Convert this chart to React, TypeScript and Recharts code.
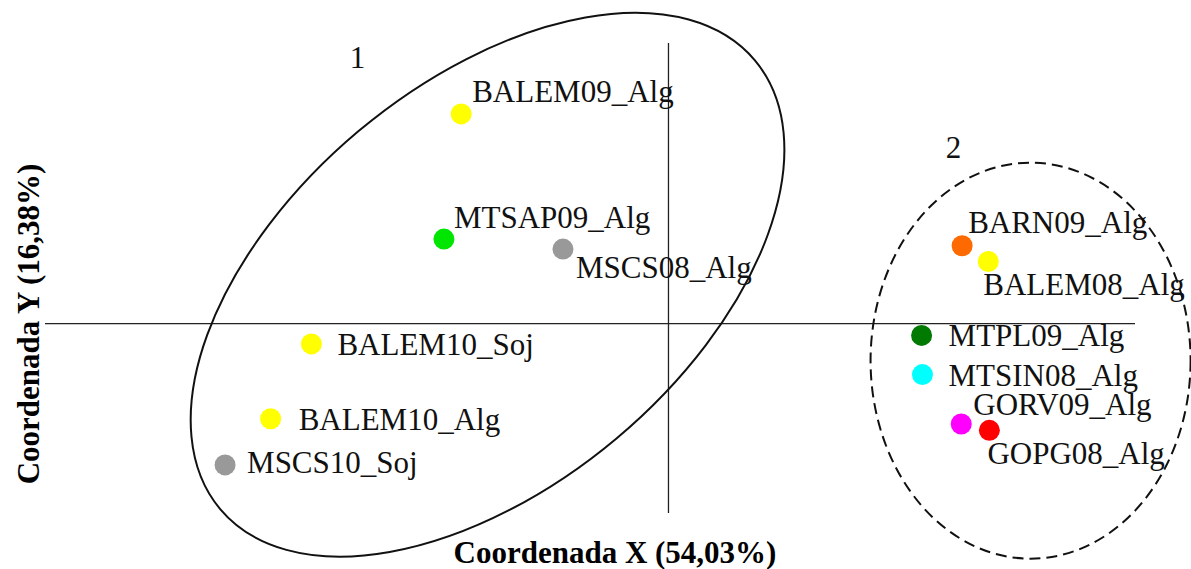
import React from "react";
import {
  ScatterChart,
  Scatter,
  XAxis,
  YAxis,
  ReferenceLine,
  ReferenceDot,
} from "recharts";

const WIDTH = 1191;
const HEIGHT = 569;
const MARGIN = { top: 43, right: 56, bottom: 0, left: 0 };
const X_AXIS_H = 56;
const Y_AXIS_W = 45;
const X_DOMAIN: [number, number] = [-2.86, 2.14];
const Y_DOMAIN: [number, number] = [-0.87, 1.29];

// pixels per data unit, used to size the cluster ellipses
const PLOT_W = WIDTH - Y_AXIS_W - MARGIN.right;
const PLOT_H = HEIGHT - MARGIN.top - X_AXIS_H;
const PX_X = PLOT_W / (X_DOMAIN[1] - X_DOMAIN[0]);
const PX_Y = PLOT_H / (Y_DOMAIN[1] - Y_DOMAIN[0]);

const FONT = "'Liberation Serif', 'Times New Roman', serif";
const textStyle = { fontFamily: FONT };

// samples
const names = [
  "BALEM09_Alg",
  "MTSAP09_Alg",
  "MSCS08_Alg",
  "BALEM10_Soj",
  "BALEM10_Alg",
  "MSCS10_Soj",
  "BARN09_Alg",
  "BALEM08_Alg",
  "MTPL09_Alg",
  "MTSIN08_Alg",
  "GORV09_Alg",
  "GOPG08_Alg",
];
const coordX = [-0.951, -1.03, -0.484, -1.638, -1.825, -2.034, 1.347, 1.467, 1.161, 1.165, 1.343, 1.472];
const coordY = [0.964, 0.389, 0.343, -0.093, -0.437, -0.649, 0.358, 0.286, -0.054, -0.234, -0.461, -0.49];
const colors = [
  "#ffff00",
  "#00e600",
  "#999999",
  "#ffff00",
  "#ffff00",
  "#999999",
  "#ff6a00",
  "#ffff00",
  "#007a00",
  "#00ffff",
  "#ff00ff",
  "#ff0000",
];

// where each name sits relative to its dot (px)
const labelDx = [11, 10, 13, 26, 28, 22, 6, -5, 27, 26, 12, -2];
const labelDy = [-12, -11, 29, 11, 11, 8, -13, 34, 11, 11, -9, 34];

// cluster outlines: centre, semi-axes (data units), tilt in degrees
const clusterIds = ["1", "2"];
const clusterCx = [-0.83, 1.661];
const clusterCy = [0.179, -0.17];
const clusterRx = [1.601, 0.734];
const clusterRy = [0.922, 0.91];
const clusterTilt = [40, 0];
const clusterDashed = [false, true];
const clusterTagX = [-1.427, 1.307];
const clusterTagY = [1.176, 0.763];

const points = names.map((name, i) => ({
  name,
  x: coordX[i],
  y: coordY[i],
  color: colors[i],
  dx: labelDx[i],
  dy: labelDy[i],
}));

function SampleDot(props: any) {
  const { cx, cy, payload } = props;
  if (cx == null || cy == null) return null;
  return (
    <g>
      <circle cx={cx} cy={cy} r={10.5} fill={payload.color} />
      <text
        x={cx + payload.dx}
        y={cy + payload.dy}
        style={textStyle}
        fontSize={31}
        fill="#111"
      >
        {payload.name}
      </text>
    </g>
  );
}

function ellipseShape(i: number) {
  return (p: any) => (
    <ellipse
      cx={p.cx}
      cy={p.cy}
      rx={clusterRx[i] * PX_X}
      ry={clusterRy[i] * PX_Y}
      transform={`rotate(${-clusterTilt[i]} ${p.cx} ${p.cy})`}
      fill="none"
      stroke="#111"
      strokeWidth={2}
      strokeDasharray={clusterDashed[i] ? "11 6" : undefined}
    />
  );
}

function tagShape(i: number) {
  return (p: any) => (
    <text
      x={p.cx}
      y={p.cy}
      textAnchor="middle"
      style={textStyle}
      fontSize={31}
      fill="#111"
    >
      {clusterIds[i]}
    </text>
  );
}

function XTitle({ viewBox }: any) {
  return (
    <text
      x={viewBox.x + 570}
      y={viewBox.y + 50}
      textAnchor="middle"
      style={textStyle}
      fontWeight="bold"
      fontSize={31}
      fill="#000"
    >
      Coordenada X (54,03%)
    </text>
  );
}

function YTitle({ viewBox }: any) {
  const x = viewBox.x + 28;
  const y = viewBox.y + 281;
  return (
    <text
      x={x}
      y={y}
      transform={`rotate(-90 ${x} ${y})`}
      textAnchor="middle"
      dominantBaseline="central"
      style={textStyle}
      fontWeight="bold"
      fontSize={31}
      fill="#000"
    >
      Coordenada Y (16,38%)
    </text>
  );
}

export default function App() {
  return (
    <div style={{ position: "absolute", left: 0, top: 0, background: "#fff" }}>
      <ScatterChart width={WIDTH} height={HEIGHT} margin={MARGIN}>
        <XAxis
          type="number"
          dataKey="x"
          domain={X_DOMAIN}
          height={X_AXIS_H}
          tick={false}
          tickLine={false}
          axisLine={false}
          label={<XTitle />}
        />
        <YAxis
          type="number"
          dataKey="y"
          domain={Y_DOMAIN}
          width={Y_AXIS_W}
          tick={false}
          tickLine={false}
          axisLine={false}
          label={<YTitle />}
        />
        <ReferenceLine x={0} stroke="#222" strokeWidth={1.3} />
        <ReferenceLine y={0} stroke="#222" strokeWidth={1.3} />
        {clusterIds.map((id, i) => (
          <ReferenceDot
            key={`c${id}`}
            x={clusterCx[i]}
            y={clusterCy[i]}
            ifOverflow="visible"
            shape={ellipseShape(i)}
          />
        ))}
        {clusterIds.map((id, i) => (
          <ReferenceDot
            key={`t${id}`}
            x={clusterTagX[i]}
            y={clusterTagY[i]}
            ifOverflow="visible"
            shape={tagShape(i)}
          />
        ))}
        <Scatter data={points} shape={<SampleDot />} isAnimationActive={false} />
      </ScatterChart>
    </div>
  );
}
